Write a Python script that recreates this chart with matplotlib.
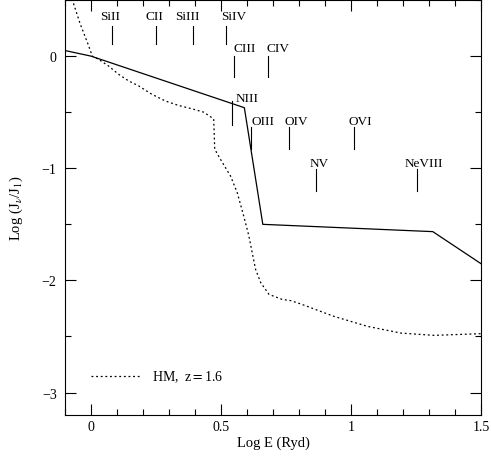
import numpy as np
import matplotlib
matplotlib.use("Agg")
import matplotlib.pyplot as plt
from matplotlib.ticker import MultipleLocator

plt.rcParams['font.family'] = ['Liberation Serif', 'DejaVu Serif']
plt.rcParams['mathtext.fontset'] = 'stix'

# model spectrum (solid)
model_x = [-0.1, 0.0, 0.59, 0.661, 1.315, 1.5]
model_y = [0.05, 0.0, -0.46, -1.50, -1.565, -1.85]

# Haardt & Madau z=1.6 (dotted)
hm_x = [-0.073, -0.042, -0.012, 0.005, 0.028, 0.067, 0.105, 0.144, 0.183, 0.234, 0.286,
        0.337, 0.389, 0.434, 0.472, 0.476, 0.498, 0.537, 0.563, 0.588, 0.607, 0.62,
        0.633, 0.653, 0.685, 0.736, 0.768, 0.807, 0.934, 1.064, 1.193, 1.32, 1.5]
hm_y = [0.51, 0.29, 0.11, 0.0, -0.027, -0.087, -0.16, -0.22, -0.265, -0.34, -0.40,
        -0.44, -0.47, -0.50, -0.56, -0.83, -0.92, -1.07, -1.22, -1.43, -1.60, -1.75,
        -1.90, -2.02, -2.125, -2.17, -2.18, -2.21, -2.32, -2.41, -2.47, -2.49, -2.475]

# ionization edges
ions = ['SiII', 'CII', 'SiIII', 'SiIV', 'CIII', 'CIV', 'NIII', 'OIII', 'OIV', 'OVI', 'NV', 'NeVIII']
ion_x = [0.081, 0.251, 0.394, 0.521, 0.552, 0.68, 0.544, 0.614, 0.76, 1.01, 0.865, 1.255]
label_x = [0.035, 0.208, 0.325, 0.5, 0.55, 0.675, 0.555, 0.617, 0.745, 0.99, 0.84, 1.207]
label_y = [0.36, 0.36, 0.36, 0.36, 0.07, 0.07, -0.37, -0.58, -0.58, -0.58, -0.95, -0.95]
tick_top = [0.27, 0.27, 0.27, 0.27, 0.0, 0.0, -0.40, -0.63, -0.63, -0.63, -1.01, -1.01]
tick_bot = [0.11, 0.11, 0.11, 0.11, -0.19, -0.19, -0.61, -0.83, -0.83, -0.83, -1.20, -1.20]

fig = plt.figure(figsize=(4.91, 4.6), dpi=100)
ax = fig.add_axes([0.1324, 0.0957, 0.847, 0.902])

ax.plot(model_x, model_y, color='black', lw=0.9)
ax.plot(hm_x, hm_y, color='black', lw=0.9, linestyle=(0, (1.5, 2.2)))

for name, xi, lx, ly, t, b in zip(ions, ion_x, label_x, label_y, tick_top, tick_bot):
    ax.plot([xi, xi], [b, t], color='black', lw=0.8)
    ax.text(lx, ly, name, ha='left', va='center', fontsize=9.5)

# legend
ax.plot([0.0, 0.19], [-2.85, -2.85], color='black', lw=0.9, linestyle=(0, (1.5, 2.2)))
ax.text(0.235, -2.85, r'HM,  z$=$1.6', ha='left', va='center', fontsize=10)

ax.set_xlim(-0.1, 1.5)
ax.set_ylim(-3.2, 0.5)
ax.xaxis.set_major_locator(MultipleLocator(0.5))
ax.xaxis.set_minor_locator(MultipleLocator(0.1))
ax.yaxis.set_major_locator(MultipleLocator(1))
ax.yaxis.set_minor_locator(MultipleLocator(0.5))
ax.tick_params(which='both', direction='in', top=True, right=True, labelsize=10, width=0.8)
ax.tick_params(which='major', length=8)
ax.tick_params(which='minor', length=4)
ax.tick_params(axis='y', pad=6)
ax.xaxis.set_major_formatter(plt.FuncFormatter(lambda v, p: '0' if abs(v) < 1e-9 else ('%g' % v)))
ax.yaxis.set_major_formatter(plt.FuncFormatter(lambda v, p: '0' if abs(v) < 1e-9 else ('\u2212%g' % -v if v < 0 else '%g' % v)))
for s in ax.spines.values():
    s.set_linewidth(0.8)

ax.set_xlabel('Log E (Ryd)', fontsize=10.5, labelpad=2)
ax.set_ylabel(r'Log (J$_\nu$/J$_1$)', fontsize=10.5, labelpad=12)

fig.savefig('out.png', dpi=100)
